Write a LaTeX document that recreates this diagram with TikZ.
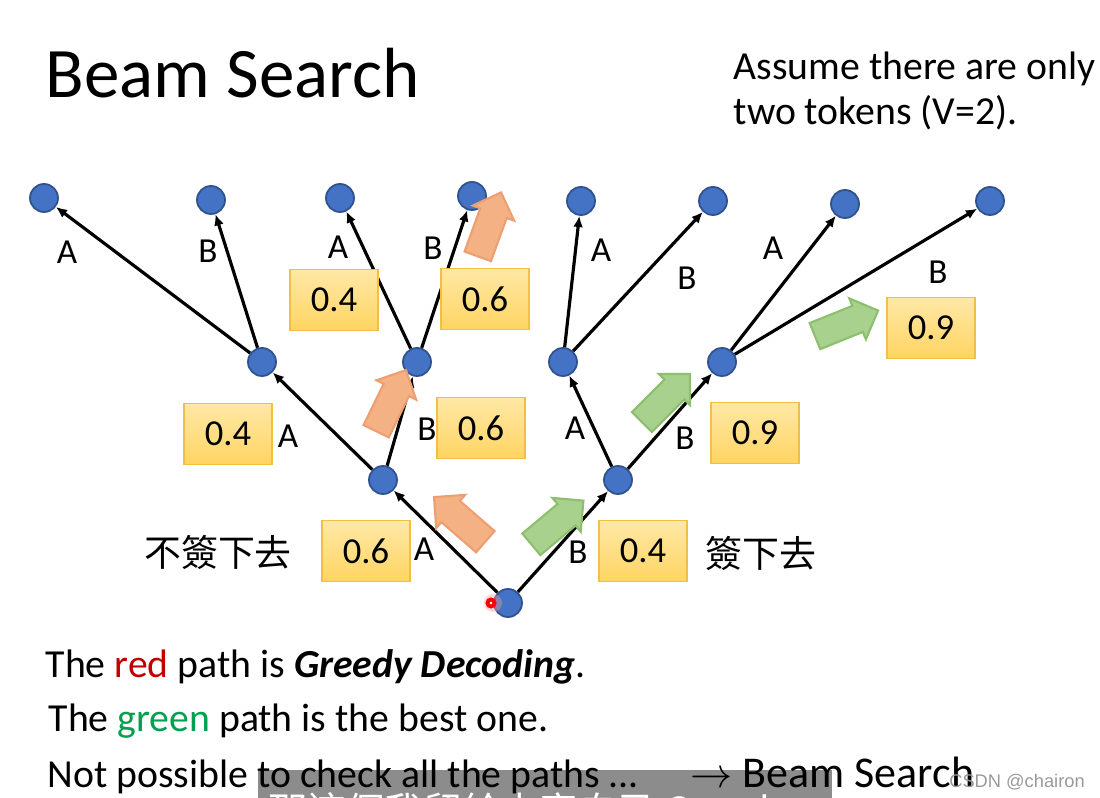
\documentclass[tikz,border=0pt]{standalone}
\usepackage{fontspec}
\setmainfont{Carlito}
\newfontfamily\cjk{Noto Sans CJK TC}
\newfontfamily\markfont{Liberation Sans}
\usetikzlibrary{arrows.meta,shapes.arrows}
\definecolor{dotblue}{HTML}{4472C4}
\definecolor{dotedge}{HTML}{2F528F}
\definecolor{boxtop}{HTML}{FFE8A6}
\definecolor{boxbot}{HTML}{FFD462}
\definecolor{boxedge}{HTML}{F2BF45}
\definecolor{peach}{HTML}{F4B183}
\definecolor{peachedge}{HTML}{EE9F72}
\definecolor{leaf}{HTML}{A9D18E}
\definecolor{leafedge}{HTML}{8DBF6E}
\definecolor{redword}{HTML}{C00000}
\definecolor{greenword}{HTML}{00A050}
\begin{document}
\begin{tikzpicture}[x=0.01cm,y=-0.01cm,
    dot/.style={circle,fill=dotblue,draw=dotedge,line width=0.5pt,minimum size=0.28cm,inner sep=0pt},
    edge/.style={line width=0.9pt,-{Latex[length=3.2pt,width=2.8pt]}},
    prob/.style={draw=boxedge,top color=boxtop,bottom color=boxbot,minimum width=0.88cm,minimum height=0.61cm,inner sep=0pt,font=\fontsize{10.4}{12}\selectfont},
    tok/.style={inner sep=0pt,font=\fontsize{10}{12}\selectfont},
    fat/.style={single arrow,single arrow head extend=0.08cm,inner sep=0.13cm,minimum height=0.68cm,line width=0.6pt},
    hot/.style={fat,fill=peach,draw=peachedge},
    good/.style={fat,fill=leaf,draw=leafedge},
    line/.style={anchor=base west,inner sep=0pt,font=\fontsize{11.3}{13}\selectfont},
  ]
  \useasboundingbox (0,0) rectangle (1100,798);
  % title and note
  \node[anchor=base west,inner sep=0pt,font=\fontsize{20.2}{24}\selectfont] (title) at (45,98) {Beam Search};
  \node[line] (note1) at (733,80) {Assume there are only};
  \node[line] (note2) at (733,125) {two tokens (V=2).};
  % the tree
  \node[dot] (r) at (508,603) {};
  \node[dot] (a) at (383,480) {};
  \node[dot] (b) at (618,480) {};
  \node[dot] (aa) at (262,362) {};
  \node[dot] (ab) at (417,362) {};
  \node[dot] (ba) at (563,362) {};
  \node[dot] (bb) at (722,362) {};
  \node[dot] (aaa) at (44,198) {};
  \node[dot] (aab) at (211,200) {};
  \node[dot] (aba) at (340,198) {};
  \node[dot] (abb) at (472,196) {};
  \node[dot] (baa) at (581,201) {};
  \node[dot] (bab) at (713,201) {};
  \node[dot] (bba) at (845,204) {};
  \node[dot] (bbb) at (990,201) {};
  \foreach \p/\c in {r/a,r/b,a/aa,a/ab,b/ba,b/bb,aa/aaa,aa/aab,ab/aba,ab/abb,ba/baa,ba/bab,bb/bba,bb/bbb}
    \draw[edge] (\p) -- (\c);
  % token labels
  \foreach \n/\x/\y/\t in {ta/424/549/A,tb/578/552/B,
      taa/288/436/A,tab/427/429/B,tba/575/428/A,tbb/685/438/B,
      taaa/67/252/A,taab/208/251/B,taba/338/247/A,tabb/433/248/B,
      tbaa/601/250/A,tbab/687/278/B,tbba/773/248/A,tbbb/938/272/B}
    \node[tok] (\n) at (\x,\y) {\t};
  % probabilities
  \node[prob] (pa) at (366,551) {0.6};
  \node[prob] (pb) at (643,551) {0.4};
  \node[prob] (paa) at (228,434) {0.4};
  \node[prob] (pab) at (481,428) {0.6};
  \node[prob] (pbb) at (755,433) {0.9};
  \node[prob] (paba) at (334,300) {0.4};
  \node[prob] (pabb) at (485,299) {0.6};
  \node[prob] (pbbb) at (931,328) {0.9};
  \node[font=\cjk\fontsize{10.5}{12}\selectfont,inner sep=0pt] (stop) at (218,552) {不簽下去};
  \node[font=\cjk\fontsize{10.5}{12}\selectfont,inner sep=0pt] (go) at (761,553) {簽下去};
  % block arrows
  \node[hot,rotate=139] (h1) at (465,524) {};
  \node[hot,rotate=64] (h2) at (388,407) {};
  \node[hot,rotate=70] (h3) at (487,231) {};
  \node[good,rotate=40] (g1) at (552,527) {};
  \node[good,rotate=45] (g2) at (661,403) {};
  \node[good,rotate=22] (g3) at (840,326) {};
  % cursor
  \fill[red!40,opacity=0.4] (493,603) circle (0.09cm);
  \draw[red,line width=1.1pt,fill=white] (491,603) circle (0.035cm);
  % bottom text
  \fill[black!45] (258,770) rectangle (832,798);
  \node[line] (l1) at (45,678) {The \textcolor{redword}{red} path is \textbf{\textit{Greedy Decoding}}.};
  \node[line] (l2) at (48,732) {The \textcolor{greenword}{green} path is the best one.};
  \node[line] (l3) at (47,788) {Not possible to check all the paths ...};
  \node[anchor=base west,inner sep=0pt,font=\fontsize{12.5}{14}\selectfont] (l3b) at (690,788) {$\rightarrow$ Beam Search};
  \node[anchor=base west,inner sep=0pt,text=white,font=\cjk\fontsize{11}{13}\selectfont] (sub) at (268,826) {那這個我留給大家自己 Google};
  \node[inner sep=0pt,text=black!40,font=\markfont\fontsize{5.2}{6}\selectfont] (mark) at (1017,782) {CSDN @chairon};
\end{tikzpicture}
\end{document}
